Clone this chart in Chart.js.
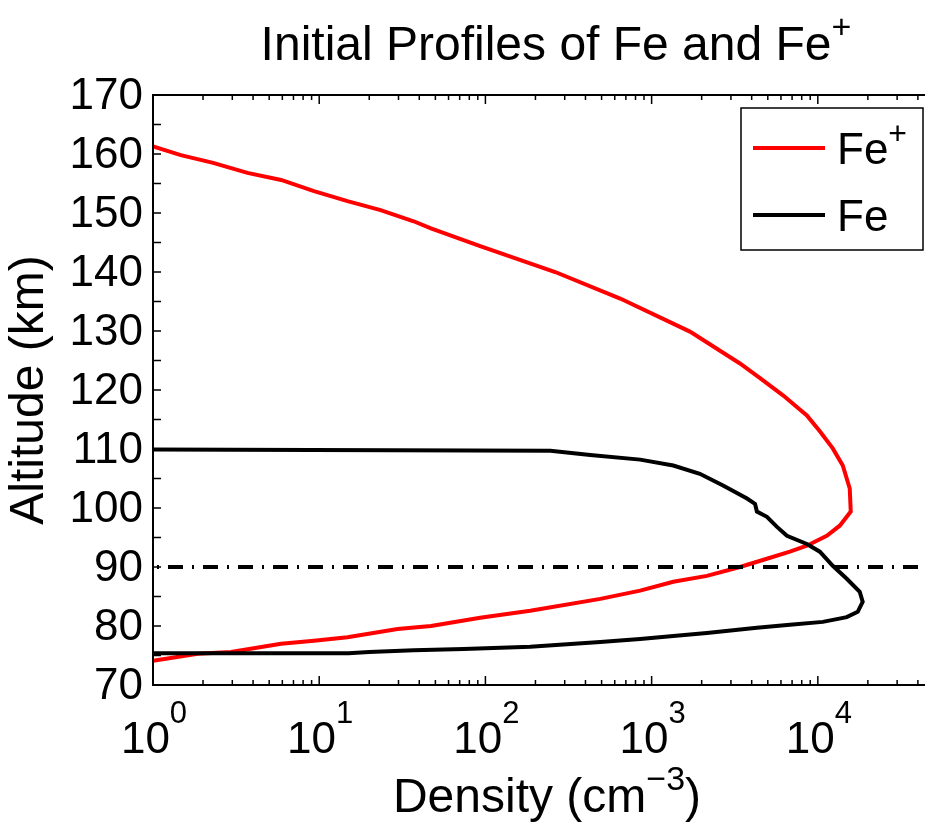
<!DOCTYPE html>
<html lang="en">
  <head>
    <meta charset="UTF-8" />
    <title>Initial Profiles of Fe and Fe+</title>
    <script src="https://cdn.jsdelivr.net/npm/chart.js@4.4.1/dist/chart.umd.min.js"></script>
    <style>
      html,
      body {
        margin: 0;
        padding: 0;
        background: #fff;
        overflow: hidden;
      }
      canvas {
        display: block;
      }
    </style>
  </head>
  <body>
    <canvas id="profiles" width="940" height="825"></canvas>
    <script>
      // Fe+ profile, read top (161 km) -> nose -> bottom (74 km)
      const feIonAlt = [
        161.3, 159.8, 158.5, 156.8, 155.6, 153.7, 152.0, 150.5, 148.6, 147.4,
        144.4, 140.0, 135.5, 129.9, 124.5, 122.0, 119.1, 115.7, 113.0, 110.1,
        107.2, 103.3, 99.4, 97.0, 95.3, 93.6, 92.6, 91.4, 90.0, 88.5, 87.5,
        86.0, 84.6, 82.6, 81.4, 80.0, 79.5, 78.1, 77.5, 77.0, 75.6, 75.3, 74.1,
      ];
      const feIonDens = [
        1, 1.47, 2.3, 3.7, 5.9, 9.3, 14.8, 23.4, 37, 47, 93, 263, 647, 1700,
        3400, 4490, 6170, 8590, 10280, 12300, 14130, 15560, 15780, 13550, 11320,
        8590, 6790, 4940, 3400, 2150, 1350, 853, 491, 186, 93, 47, 29.6, 14.8,
        9.3, 5.9, 2.94, 1.86, 1,
      ];

      // Fe profile, read top (110 km) -> nose -> bottom (75 km)
      const feAlt = [
        109.9, 109.7, 109.0, 108.2, 107.2, 105.8, 103.8, 101.6, 100.7, 99.4,
        98.5, 96.8, 95.3, 93.9, 92.6, 90.2, 88.0, 85.8, 84.1, 82.4, 81.5, 80.7,
        80.2, 79.7, 78.8, 78.3, 77.8, 77.3, 76.5, 76.1, 75.9, 75.6, 75.4, 75.4,
      ];
      const feDens = [
        1, 246, 427, 853, 1350, 1950, 2690, 3750, 4190, 4300, 4940, 5680, 6520,
        8590, 10280, 12300, 14930, 17870, 18620, 17380, 14930, 10720, 6790,
        4300, 2150, 1350, 853, 491, 186, 74, 37, 20, 15, 1,
      ];

      const refAltitude = 90;
      const xMin = 1;
      const xMax = 5e4;
      const yMin = 70;
      const yMax = 170;
      const xTickExponents = [0, 1, 2, 3, 4];
      const yTickLabels = [70, 80, 90, 100, 110, 120, 130, 140, 150, 160, 170];
      const yMinorStep = 5;

      const FONT = '"Liberation Sans", Arial, Helvetica, sans-serif';

      function toPoints(xs, ys) {
        return ys.map((y, i) => ({ x: xs[i], y: y }));
      }

      // draws a run of text pieces, some raised as superscripts
      function drawParts(ctx, parts, x, y, align) {
        let total = 0;
        parts.forEach((p) => {
          ctx.font = p.size + "px " + FONT;
          p.w = ctx.measureText(p.t).width;
          total += p.w;
        });
        let cx = x;
        if (align === "center") cx = x - total / 2;
        if (align === "right") cx = x - total;
        ctx.textAlign = "left";
        ctx.textBaseline = "alphabetic";
        parts.forEach((p) => {
          ctx.font = p.size + "px " + FONT;
          ctx.fillText(p.t, cx, y - (p.rise || 0));
          cx += p.w;
        });
      }

      const axesDecor = {
        id: "axesDecor",
        afterDraw(chart) {
          const ctx = chart.ctx;
          const area = chart.chartArea;
          const xs = chart.scales.x;
          const ys = chart.scales.y;
          ctx.save();
          ctx.fillStyle = "#000";
          ctx.strokeStyle = "#000";

          // frame (right edge falls outside the window)
          ctx.lineWidth = 2;
          ctx.beginPath();
          ctx.moveTo(area.right, area.top);
          ctx.lineTo(area.left, area.top);
          ctx.lineTo(area.left, area.bottom);
          ctx.lineTo(area.right, area.bottom);
          ctx.stroke();

          // inward ticks
          ctx.lineWidth = 1.5;
          ctx.beginPath();
          for (let v = yMin; v <= yMax; v += yMinorStep) {
            const py = ys.getPixelForValue(v);
            ctx.moveTo(area.left, py);
            ctx.lineTo(area.left + 8, py);
          }
          for (let e = 0; e <= 4; e++) {
            for (let m = 1; m <= 9; m++) {
              const v = m * Math.pow(10, e);
              if (v > xMax) break;
              const px = xs.getPixelForValue(v);
              const len = m === 1 ? 9 : 5;
              ctx.moveTo(px, area.bottom);
              ctx.lineTo(px, area.bottom - len);
              ctx.moveTo(px, area.top);
              ctx.lineTo(px, area.top + len);
            }
          }
          ctx.stroke();

          // y tick labels
          ctx.font = "44px " + FONT;
          ctx.textAlign = "right";
          ctx.textBaseline = "middle";
          yTickLabels.forEach((v) => {
            ctx.fillText(String(v), area.left - 10, ys.getPixelForValue(v) + 2);
          });

          // x tick labels 10^n
          xTickExponents.forEach((e) => {
            const px = xs.getPixelForValue(Math.pow(10, e));
            drawParts(
              ctx,
              [
                { t: "10", size: 44 },
                { t: String(e), size: 31, rise: 30 },
              ],
              px + 1,
              area.bottom + 68,
              "center"
            );
          });

          // axis titles
          drawParts(
            ctx,
            [
              { t: "Density (cm", size: 48 },
              { t: "\u22123", size: 34, rise: 22 },
              { t: ")", size: 48 },
            ],
            547,
            812,
            "center"
          );
          ctx.save();
          ctx.translate(43, (area.top + area.bottom) / 2);
          ctx.rotate(-Math.PI / 2);
          ctx.font = "48px " + FONT;
          ctx.textAlign = "center";
          ctx.textBaseline = "alphabetic";
          ctx.fillText("Altitude (km)", 0, 0);
          ctx.restore();

          // title
          drawParts(
            ctx,
            [
              { t: "Initial Profiles of Fe and Fe", size: 48 },
              { t: "+", size: 34, rise: 22 },
            ],
            556,
            60,
            "center"
          );

          // legend
          ctx.fillStyle = "#fff";
          ctx.fillRect(741, 108, 182, 142);
          ctx.lineWidth = 1.5;
          ctx.strokeRect(741, 108, 182, 142);
          const entries = chart.data.datasets.filter((d) => d.legendParts);
          entries.forEach((d, i) => {
            const ly = 148 + i * 67;
            ctx.strokeStyle = d.borderColor;
            ctx.lineWidth = 4;
            ctx.beginPath();
            ctx.moveTo(753, ly);
            ctx.lineTo(825, ly);
            ctx.stroke();
            ctx.fillStyle = "#000";
            drawParts(ctx, d.legendParts, 837, ly + 16, "left");
          });
          ctx.restore();
        },
      };

      const ctx = document.getElementById("profiles").getContext("2d");
      const chart = new Chart(ctx, {
        type: "scatter",
        data: {
          datasets: [
            {
              label: "Fe+",
              legendParts: [
                { t: "Fe", size: 44 },
                { t: "+", size: 32, rise: 20 },
              ],
              data: toPoints(feIonDens, feIonAlt),
              showLine: true,
              borderColor: "#ff0000",
              borderWidth: 4,
              pointRadius: 0,
              tension: 0,
              order: 2,
            },
            {
              label: "Fe",
              legendParts: [{ t: "Fe", size: 44 }],
              data: toPoints(feDens, feAlt),
              showLine: true,
              borderColor: "#000000",
              borderWidth: 4,
              pointRadius: 0,
              tension: 0,
              order: 1,
            },
            {
              label: "ref",
              data: [
                { x: xMin, y: refAltitude },
                { x: xMax, y: refAltitude },
              ],
              showLine: true,
              borderColor: "#000000",
              borderWidth: 4,
              borderDash: [15, 9, 2, 9],
              borderDashOffset: 20,
              borderCapStyle: "butt",
              pointRadius: 0,
              order: 0,
            },
          ],
        },
        options: {
          responsive: false,
          animation: false,
          layout: {
            padding: { left: 153, top: 95, right: 6, bottom: 140 },
          },
          plugins: {
            legend: { display: false },
            tooltip: { enabled: false },
          },
          scales: {
            x: { type: "logarithmic", min: xMin, max: xMax, display: false },
            y: { type: "linear", min: yMin, max: yMax, display: false },
          },
        },
        plugins: [axesDecor],
      });
    </script>
  </body>
</html>
